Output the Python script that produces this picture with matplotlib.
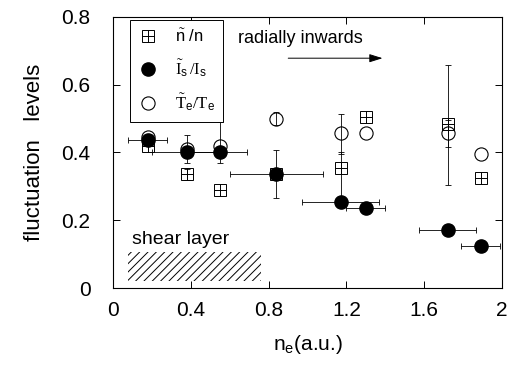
import numpy as np
import matplotlib
matplotlib.use('Agg')
import matplotlib.patches as patches
from matplotlib import pyplot as plt

plt.rcParams.update({'font.family': 'Liberation Sans',
                     'mathtext.fontset': 'custom',
                     'mathtext.rm': 'Liberation Serif',
                     'mathtext.sf': 'Liberation Sans',
                     'mathtext.it': 'Liberation Sans:italic',
                     'hatch.linewidth': 0.7})

#---- data

ne = np.array([0.18, 0.38, 0.55, 0.84, 1.17, 1.30, 1.72, 1.89])

# n~/n  (crossed squares)
n_lev = np.array([0.42, 0.335, 0.29, 0.336, 0.355, 0.505, 0.483, 0.325])
n_err_lo = np.array([0, 0.015, 0, 0, 0.10, 0, 0.18, 0])
n_err_hi = np.array([0, 0.015, 0, 0, 0.045, 0, 0.176, 0])

# I~s/Is  (filled circles)
is_lev = np.array([0.437, 0.40, 0.40, 0.336, 0.255, 0.235, 0.171, 0.124])
is_xerr = np.array([0.10, 0.176, 0.14, 0.24, 0.20, 0.10, 0.147, 0.10])
is_err_lo = np.array([0, 0.03, 0.03, 0.07, 0, 0, 0, 0])
is_err_hi = np.array([0, 0.05, 0.09, 0.07, 0, 0, 0, 0])

# T~e/Te  (open circles)
te_lev = np.array([0.447, 0.41, 0.418, 0.50, 0.456, 0.458, 0.456, 0.395])
te_err_lo = np.array([0, 0, 0, 0.02, 0.06, 0, 0.04, 0])
te_err_hi = np.array([0, 0, 0, 0.02, 0.057, 0, 0.04, 0])

shear_layer = (0.077, 0.76)   # ne range of the shear layer

labels = [r'$\tilde{\mathsf{n}}$ /n',
          r'$\tilde{\mathrm{I}}_{\mathsf{s}}\,/\mathrm{I}_{\mathsf{s}}$',
          r'$\tilde{\mathrm{T}}_{\mathsf{e}}/\mathrm{T}_{\mathsf{e}}$']


def yerrbars(ax, x, lo, hi, y):
    m = (lo > 0) | (hi > 0)
    ax.errorbar(x[m], y[m], yerr=[lo[m], hi[m]], fmt='none', ecolor='k',
                elinewidth=0.6, capsize=2, capthick=0.6, zorder=2)


def plot_data(ax):

    #-- error bars
    ax.errorbar(ne, is_lev, xerr=is_xerr, fmt='none', ecolor='k',
                elinewidth=0.6, capsize=2, capthick=0.6, zorder=2)
    yerrbars(ax, ne, n_err_lo, n_err_hi, n_lev)
    yerrbars(ax, ne, is_err_lo, is_err_hi, is_lev)
    yerrbars(ax, ne, te_err_lo, te_err_hi, te_lev)

    #-- markers
    sq, = ax.plot(ne, n_lev, 's', ms=8, mfc='none', mec='k', mew=0.7, zorder=3)
    pl_, = ax.plot(ne, n_lev, '+', ms=8, mec='k', mew=0.7, zorder=3)
    op, = ax.plot(ne, te_lev, 'o', ms=9.5, mfc='none', mec='k', mew=0.8, zorder=3)
    fi, = ax.plot(ne, is_lev, 'o', ms=9.5, mfc='k', mec='k', zorder=4)

    leg = ax.legend([(sq, pl_), fi, op], labels, loc='upper left',
                    bbox_to_anchor=(0.044, 0.99), borderaxespad=0,
                    fontsize=12, handlelength=1.2, handletextpad=1.0,
                    labelspacing=0.75, borderpad=0.5, fancybox=False,
                    framealpha=1, edgecolor='k')
    leg.get_frame().set_linewidth(0.7)

    #-- shear layer
    rect = patches.Rectangle((shear_layer[0], 0.02), shear_layer[1] - shear_layer[0],
                             0.085, fill=False, hatch='////', edgecolor='k',
                             linewidth=0)
    ax.add_patch(rect)
    ax.text(0.10, 0.13, 'shear layer', fontsize=14)

    #-- radial direction
    ax.text(0.644, 0.737, 'radially inwards', fontsize=13, va='center')
    ax.annotate('', xy=(1.40, 0.678), xytext=(0.887, 0.678),
                arrowprops=dict(arrowstyle='-|>,head_length=0.8,head_width=0.25',
                                color='k', lw=0.7))

    ax.set_xlim(0, 2)
    ax.set_ylim(0, 0.8)
    ax.set_xticks([0, 0.4, 0.8, 1.2, 1.6, 2])
    ax.set_xticklabels(['0', '0.4', '0.8', '1.2', '1.6', '2'])
    ax.set_yticks([0, 0.2, 0.4, 0.6, 0.8])
    ax.set_yticklabels(['0', '0.2', '0.4', '0.6', '0.8'])
    ax.tick_params(direction='in', top=True, right=True, length=5,
                   width=0.7, labelsize=15)
    ax.tick_params(axis='x', pad=9)
    ax.tick_params(axis='y', pad=16)
    for s in ax.spines.values():
        s.set_linewidth(0.8)

    ax.set_xlabel(r'n$_{\mathsf{e}}$(a.u.)', fontsize=15, labelpad=10)
    ax.set_ylabel('fluctuation   levels', fontsize=16, labelpad=12)

    return ax


if __name__ == '__main__':

    fig = plt.figure(figsize=(5.15, 3.66), dpi=100)
    ax = fig.add_axes([0.219, 0.213, 0.756, 0.741])

    ax = plot_data(ax)

    fig.savefig('out.png', dpi=100)
